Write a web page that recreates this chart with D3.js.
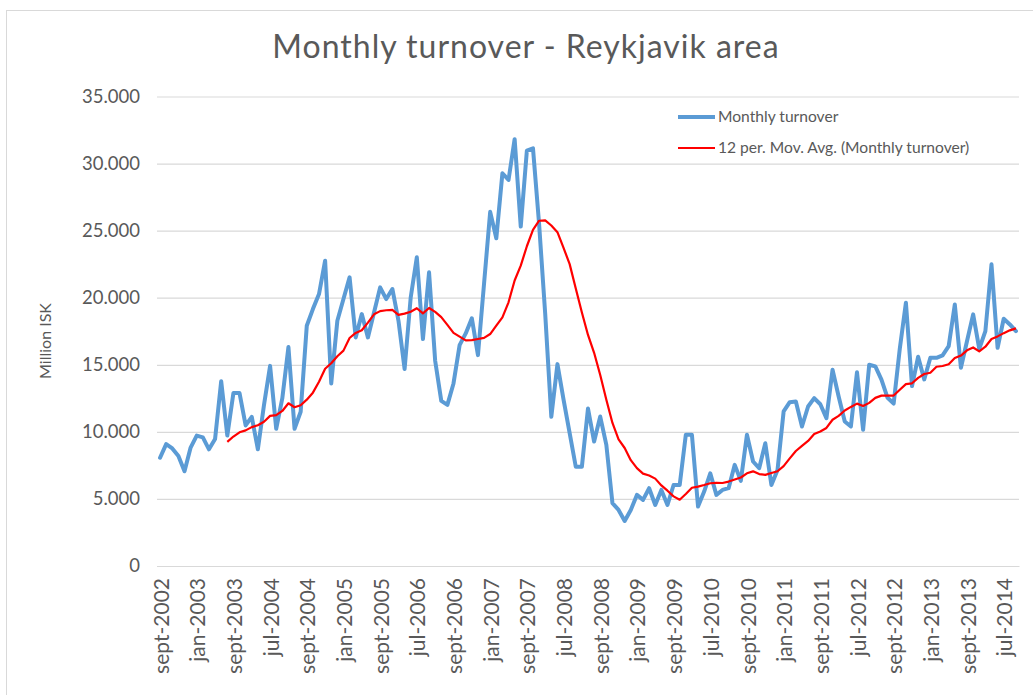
<!DOCTYPE html>
<html>
<head>
<meta charset="utf-8">
<script src="https://cdn.jsdelivr.net/npm/d3@7"></script>
<style>
  html, body { margin: 0; padding: 0; background: #ffffff; }
  svg { display: block; }
  text { font-family: Lato, "Open Sans", sans-serif; fill: #595959; }
</style>
</head>
<body>
<svg id="chart" width="1033" height="695"></svg>
<script>
// ---- data (Million ISK) ----
const titleText = "Monthly turnover - Reykjavik area";
const yAxisTitle = "Million ISK";
const seriesName = "Monthly turnover";
const trendName = "12 per. Mov. Avg. (Monthly turnover)";
const trendPeriod = 12;

const tickLabels = [
  "sept-2002","jan-2003","sept-2003","jul-2004","sept-2004","jan-2005",
  "sept-2005","jul-2006","sept-2006","jan-2007","sept-2007","jul-2008",
  "sept-2008","jan-2009","sept-2009","jul-2010","sept-2010","jan-2011",
  "sept-2011","jul-2012","sept-2012","jan-2013","sept-2013","jul-2014"
];
const labelEvery = 6;

const yTicks = [0, 5000, 10000, 15000, 20000, 25000, 30000, 35000];

const turnover = [
  8070, 9090, 8760, 8200, 7060, 8830, 9720, 9590, 8700, 9470,
  13780, 9720, 12890, 12890, 10480, 11120, 8700, 12000, 14920, 10230,
  12510, 16320, 10230, 11500, 17910, 19150, 20270, 22760, 13610, 18280,
  19900, 21520, 17040, 18780, 17040, 18900, 20770, 19900, 20650, 18280,
  14680, 20020, 23010, 16920, 21890, 15300, 12310, 12010, 13610, 16470,
  17340, 18460, 15720, 21070, 26400, 24430, 29280, 28780, 31820, 25300,
  30970, 31140, 25500, 18800, 11120, 15050, 12400, 9900, 7400, 7400,
  11740, 9280, 11140, 9030, 4680, 4180, 3360, 4180, 5300, 4930,
  5800, 4550, 5670, 4550, 6040, 6040, 9780, 9780, 4430, 5550,
  6910, 5300, 5670, 5800, 7540, 6350, 9780, 7790, 7290, 9150,
  6040, 7160, 11520, 12210, 12260, 10400, 11890, 12510, 12060, 11020,
  14630, 12640, 10770, 10400, 14450, 10150, 15000, 14880, 13900, 12540,
  12110, 16200, 19630, 13410, 15600, 13910, 15520, 15520, 15700, 16390,
  19500, 14780, 16770, 18760, 16190, 17510, 22490, 16270, 18430, 18010,
  17510
];

// ---- layout ----
const plot = { left: 157, right: 1019, top: 96.5, bottom: 566 };
const svg = d3.select("#chart");

// chart area border
svg.append("rect")
  .attr("x", 6.5).attr("y", 10.5)
  .attr("width", 1060).attr("height", 720)
  .attr("fill", "none").attr("stroke", "#d9d9d9").attr("stroke-width", 1);

const idx = d3.range(turnover.length);
const x = d3.scaleBand().domain(idx).range([plot.left, plot.right]).paddingInner(0).paddingOuter(0);
const xc = i => x(i) + x.bandwidth() / 2;
const y = d3.scaleLinear().domain([0, 35000]).range([plot.bottom, plot.top]);

const isLocale = d3.formatLocale({ decimal: ",", thousands: ".", grouping: [3], currency: ["", ""] });
const fmt = isLocale.format(",");

// gridlines + y labels
const yAxis = svg.append("g")
  .attr("transform", `translate(${plot.left},0)`)
  .call(d3.axisLeft(y).tickValues(yTicks).tickSize(-(plot.right - plot.left)).tickPadding(17).tickFormat(fmt));
yAxis.select(".domain").remove();
yAxis.selectAll(".tick line").attr("stroke", "#d9d9d9").attr("stroke-width", 1.2);
yAxis.selectAll(".tick text")
  .style("font-family", "Lato, sans-serif").style("font-size", "18.5px").attr("fill", "#595959");

// x axis
const xAxis = svg.append("g")
  .attr("transform", `translate(0,${plot.bottom})`)
  .call(d3.axisBottom(x)
    .tickValues(d3.range(0, turnover.length, labelEvery).filter(i => i / labelEvery < tickLabels.length))
    .tickFormat(i => tickLabels[i / labelEvery])
    .tickSize(0));
xAxis.select(".domain").attr("stroke", "#d9d9d9").attr("stroke-width", 1.2);
xAxis.selectAll(".tick text")
  .attr("transform", "rotate(-90)")
  .attr("text-anchor", "end")
  .attr("x", -12).attr("y", 1).attr("dy", "0.36em")
  .style("font-family", "Lato, sans-serif").style("font-size", "21px").attr("fill", "#595959");

// y axis title
svg.append("text")
  .attr("transform", "translate(45,341) rotate(-90)")
  .attr("text-anchor", "middle").attr("dy", "0.35em")
  .style("font-size", "16px")
  .text(yAxisTitle);

// title
svg.append("text")
  .attr("x", 526).attr("y", 58)
  .attr("text-anchor", "middle")
  .style("font-size", "32px").style("letter-spacing", "1px")
  .text(titleText);

// series line
const line = d3.line().x((d, i) => xc(i)).y(d => y(d));
svg.append("path")
  .datum(turnover)
  .attr("fill", "none").attr("stroke", "#5B9BD5").attr("stroke-width", 4)
  .attr("stroke-linejoin", "round").attr("stroke-linecap", "round")
  .attr("d", line);

// moving average trendline (computed from the series, as the spreadsheet does)
const ma = turnover.map((v, i) => i < trendPeriod - 1 ? null : d3.mean(turnover.slice(i - trendPeriod + 1, i + 1)));
const maLine = d3.line().defined(d => d !== null).x((d, i) => xc(i)).y(d => y(d));
svg.append("path")
  .datum(ma)
  .attr("fill", "none").attr("stroke", "#FF0000").attr("stroke-width", 2.2)
  .attr("stroke-linejoin", "round")
  .attr("d", maLine);

// legend
const legend = svg.append("g");
const legendItems = [
  { name: seriesName, color: "#5B9BD5", width: 4, y: 117 },
  { name: trendName, color: "#FF0000", width: 2.2, y: 148 }
];
legendItems.forEach(d => {
  legend.append("line")
    .attr("x1", 678).attr("x2", 715).attr("y1", d.y).attr("y2", d.y)
    .attr("stroke", d.color).attr("stroke-width", d.width);
  legend.append("text")
    .attr("x", 718).attr("y", d.y).attr("dy", "0.35em")
    .style("font-size", "15.6px")
    .text(d.name);
});
</script>
</body>
</html>
